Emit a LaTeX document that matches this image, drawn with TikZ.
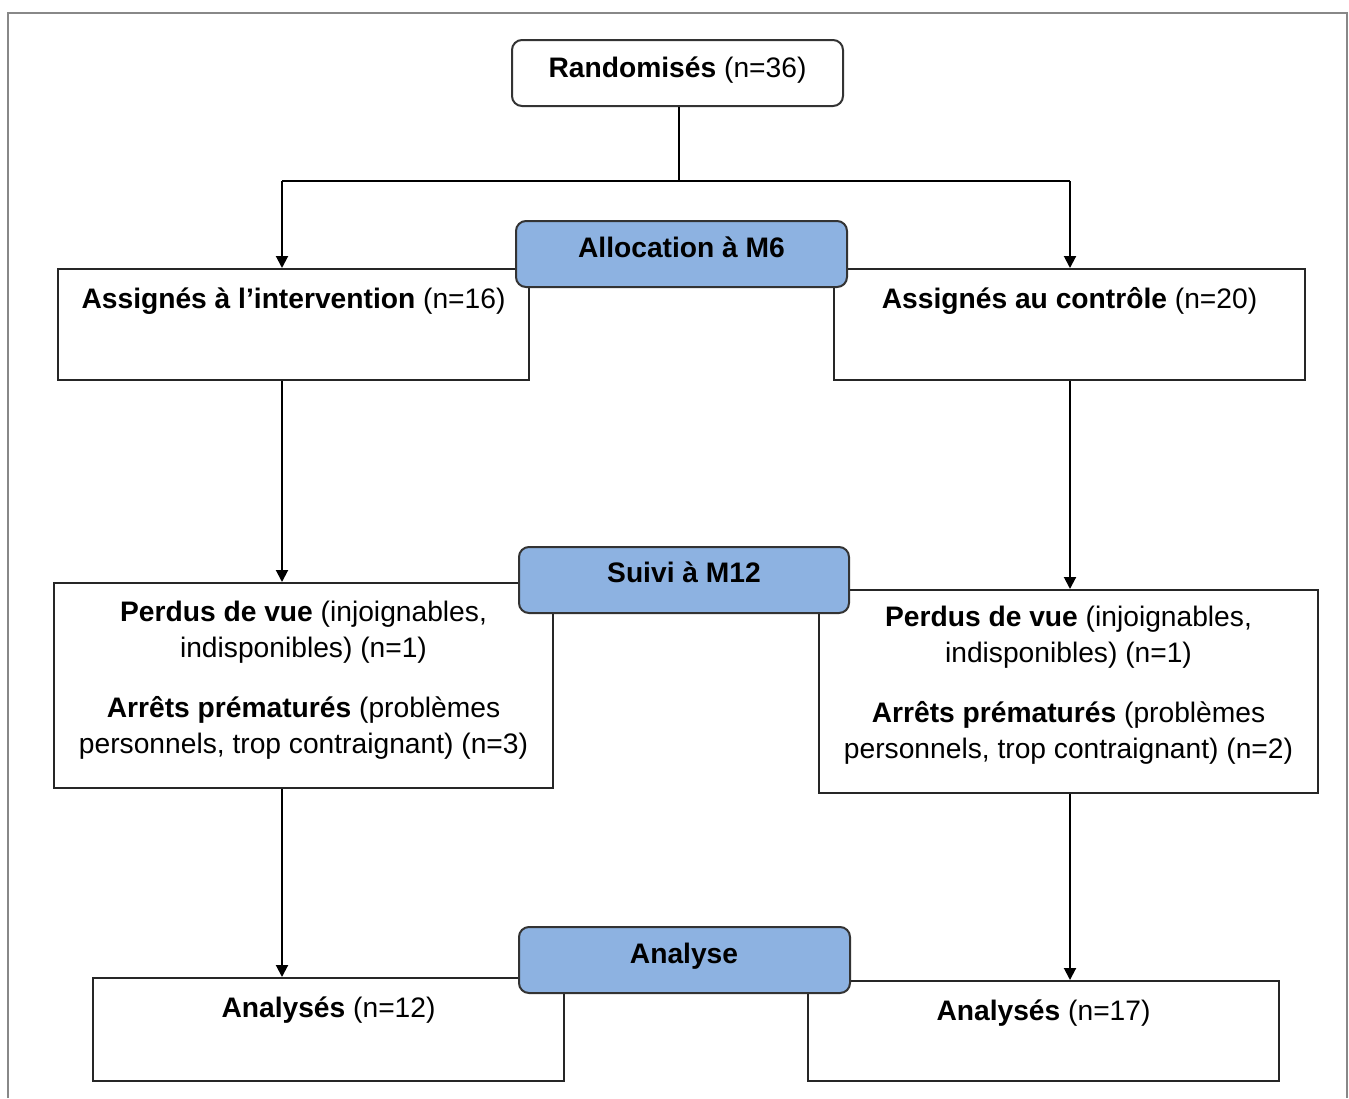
\documentclass[tikz,border=0pt]{standalone}
\usepackage{fontspec}
\setmainfont{Liberation Sans}
\usetikzlibrary{arrows.meta,fit}
\definecolor{stageblue}{RGB}{141,178,225}
\definecolor{framegray}{RGB}{136,136,136}
\begin{document}
\begin{tikzpicture}[x=0.5pt,y=-0.5pt,
  box/.style={draw=black!85,line width=1pt,fill=white,inner sep=0pt},
  stage/.style={draw=black!80,line width=1pt,fill=stageblue,rounded corners=5pt,inner sep=0pt},
  rbox/.style={draw=black!80,line width=1pt,fill=white,rounded corners=5pt,inner sep=0pt},
  txt/.style={font=\fontsize{14.1}{18}\selectfont,align=center,anchor=base,inner sep=0pt},
  conn/.style={line width=1pt,black},
  arr/.style={conn,-{Triangle[length=6pt,width=6pt]}}]
\useasboundingbox (0,0) rectangle (1349,1098);
\draw[framegray,line width=1pt] (8,1098) -- (8,13) -- (1347,13) -- (1347,1098);

% top
\node[rbox,fit={(512,40)(843,106)}] (rnd) {};
\node[txt] (rndt) at (677.5,77) {\textbf{Randomisés} (n=36)};

% assignment boxes
\node[box,fit={(58,269)(529,380)}] (ai) {};
\node[txt] (ait) at (293.5,308) {\textbf{Assignés à l’intervention} (n=16)};
\node[box,fit={(834,269)(1305,380)}] (ac) {};
\node[txt] (act) at (1069.5,308) {\textbf{Assignés au contrôle} (n=20)};
\node[stage,fit={(516,221)(847,287)}] (alloc) {};
\node[txt] (alloct) at (681.5,257) {\textbf{Allocation à M6}};

% follow-up boxes
\node[box,fit={(54,583)(553,788)}] (pl) {};
\node[txt] (plt) at (303.5,753) {\textbf{Perdus de vue} (injoignables,\\indisponibles) (n=1)\\[12pt]\textbf{Arrêts prématurés} (problèmes\\personnels, trop contraignant) (n=3)};
\node[box,fit={(819,590)(1318,793)}] (pr) {};
\node[txt] (prt) at (1068.5,758) {\textbf{Perdus de vue} (injoignables,\\indisponibles) (n=1)\\[12pt]\textbf{Arrêts prématurés} (problèmes\\personnels, trop contraignant) (n=2)};
\node[stage,fit={(519,547)(849,613)}] (suivi) {};
\node[txt] (suivit) at (684,582) {\textbf{Suivi à M12}};

% analysis boxes
\node[box,fit={(93,978)(564,1081)}] (al) {};
\node[txt] (alt) at (328.5,1017) {\textbf{Analysés} (n=12)};
\node[box,fit={(808,981)(1279,1081)}] (ar) {};
\node[txt] (art) at (1043.5,1020) {\textbf{Analysés} (n=17)};
\node[stage,fit={(519,927)(850,993)}] (analyse) {};
\node[txt] (analyset) at (684,963) {\textbf{Analyse}};

% connectors
\coordinate (split) at (679,181);
\coordinate (jl) at (282,181);
\coordinate (jr) at (1070,181);
\draw[conn] (rnd.south -| split) -- (split);
\draw[conn] (jl) -- (jr);
\draw[arr] (jl) -- (jl |- ai.north);
\draw[arr] (jr) -- (jr |- ac.north);
\draw[arr] (ai.south -| jl) -- (pl.north -| jl);
\draw[arr] (ac.south -| jr) -- (pr.north -| jr);
\draw[arr] (pl.south -| jl) -- (al.north -| jl);
\draw[arr] (pr.south -| jr) -- (ar.north -| jr);
\end{tikzpicture}
\end{document}
